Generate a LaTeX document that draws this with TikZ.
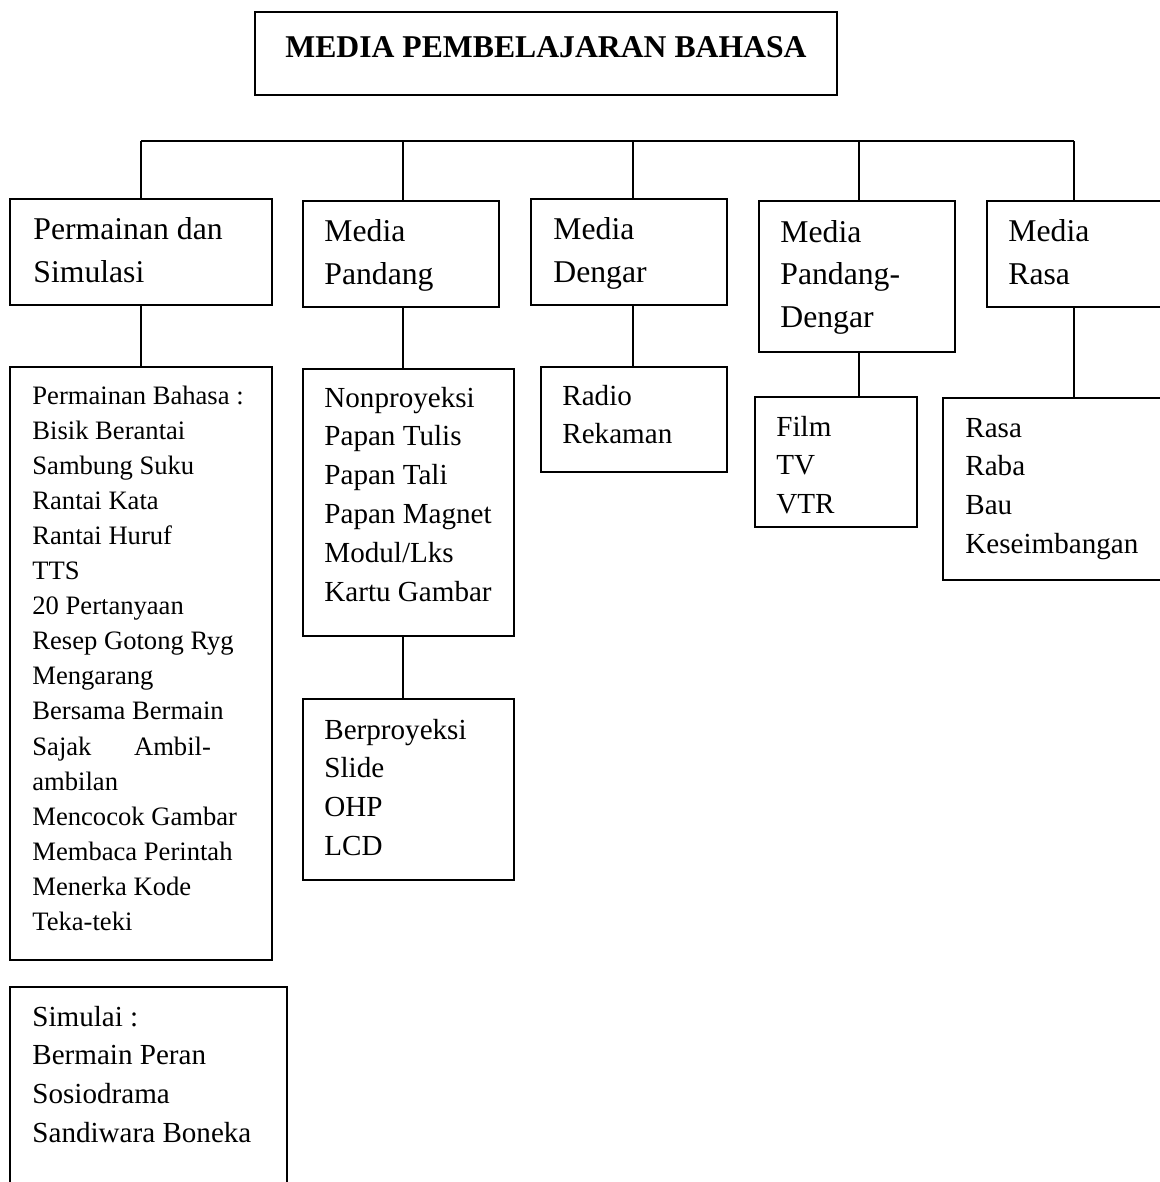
\documentclass[tikz,border=0pt]{standalone}
\usepackage{fontspec}
\setmainfont{Liberation Serif}
\usetikzlibrary{fit, calc}

\tikzset{
  box/.style={draw, line width=1pt, inner sep=0pt},
  link/.style={line width=1pt},
  headtxt/.style={font=\fontsize{15.85}{21.25}\selectfont, align=left, anchor=base west, inner sep=0pt},
  itemtxt/.style={font=\fontsize{14.55}{19.4}\selectfont, align=left, anchor=base west, inner sep=0pt},
  listtxt/.style={font=\fontsize{13.3}{17.55}\selectfont, align=left, anchor=base west, inner sep=0pt}
}

\begin{document}
\begin{tikzpicture}[x=0.5pt, y=-0.5pt]
        \useasboundingbox (0,0) rectangle (1160,1182);
        \clip (0,0) rectangle (1160,1182);

        % title
        \node[box, fit={(255,12) (837,95)}] (top) {};
        \node[font=\fontsize{15.85}{21.25}\selectfont\bfseries, anchor=base, inner sep=0pt] (toptxt) at (546,58) {MEDIA PEMBELAJARAN BAHASA};

        % first row
        \node[box, fit={(10,199) (272,305)}]  (b1) {};
        \node[box, fit={(303,201) (499,307)}] (b2) {};
        \node[box, fit={(531,199) (727,305)}] (b3) {};
        \node[box, fit={(759,201) (955,352)}] (b4) {};
        \node[box, fit={(987,201) (1161,307)}] (b5) {};

        % text nodes sit on the baseline of their last line
        \node[headtxt] (t1) at (33,282.5)   {Permainan dan\\Simulasi};
        \node[headtxt] (t2) at (324,284.5)  {Media\\Pandang};
        \node[headtxt] (t3) at (553,282.5)  {Media\\Dengar};
        \node[headtxt] (t4) at (780,327)    {Media\\Pandang-\\Dengar};
        \node[headtxt] (t5) at (1008,284.5) {Media\\Rasa};

        % second row
        \node[box, fit={(10,367) (272,960)}]   (b1b) {};
        \node[box, fit={(10,987) (287,1200)}]  (b1c) {};
        \node[box, fit={(303,369) (514,636)}]  (b2b) {};
        \node[box, fit={(303,699) (514,880)}]  (b2c) {};
        \node[box, fit={(541,367) (727,472)}]  (b3b) {};
        \node[box, fit={(755,397) (917,527)}]  (b4b) {};
        \node[box, fit={(943,398) (1170,580)}] (b5b) {};

        \node[listtxt] (t1b) at (32,930.5) {Permainan Bahasa :\\Bisik Berantai\\Sambung Suku\\Rantai Kata\\Rantai Huruf\\TTS\\20 Pertanyaan\\Resep Gotong Ryg\\Mengarang\\Bersama Bermain\\Sajak\hspace{1.6em}Ambil-\\ambilan\\Mencocok Gambar\\Membaca Perintah\\Menerka Kode\\Teka-teki};
        \node[itemtxt] (t1c) at (32,1142.4) {Simulai :\\Bermain Peran\\Sosiodrama\\Sandiwara Boneka};
        \node[itemtxt] (t2b) at (324,601)   {Nonproyeksi\\Papan Tulis\\Papan Tali\\Papan Magnet\\Modul/Lks\\Kartu Gambar};
        \node[itemtxt] (t2c) at (324,855.4) {Berproyeksi\\Slide\\OHP\\LCD};
        \node[itemtxt] (t3b) at (562,443.8) {Radio\\Rekaman};
        \node[itemtxt] (t4b) at (776,513.6) {Film\\TV\\VTR};
        \node[itemtxt] (t5b) at (965,553.4) {Rasa\\Raba\\Bau\\Keseimbangan};

        % connectors (drops sit a little right of centre)
        \coordinate (bus) at (0,141);
        \draw[link] (b1.north |- bus) -- (b5.north |- bus);
        \foreach \n/\dx in {b1/0, b2/1, b3/2, b4/1, b5/0} {
          \coordinate (\n d) at ([xshift=\dx pt]\n.north);
          \draw[link] (\n d) -- (\n d |- bus);
          \draw[link] ([xshift=\dx pt]\n.south) -- (\n d |- \n b.north);
        }
        \draw[link] (b2d |- b2b.south) -- (b2d |- b2c.north);
\end{tikzpicture}
\end{document}
